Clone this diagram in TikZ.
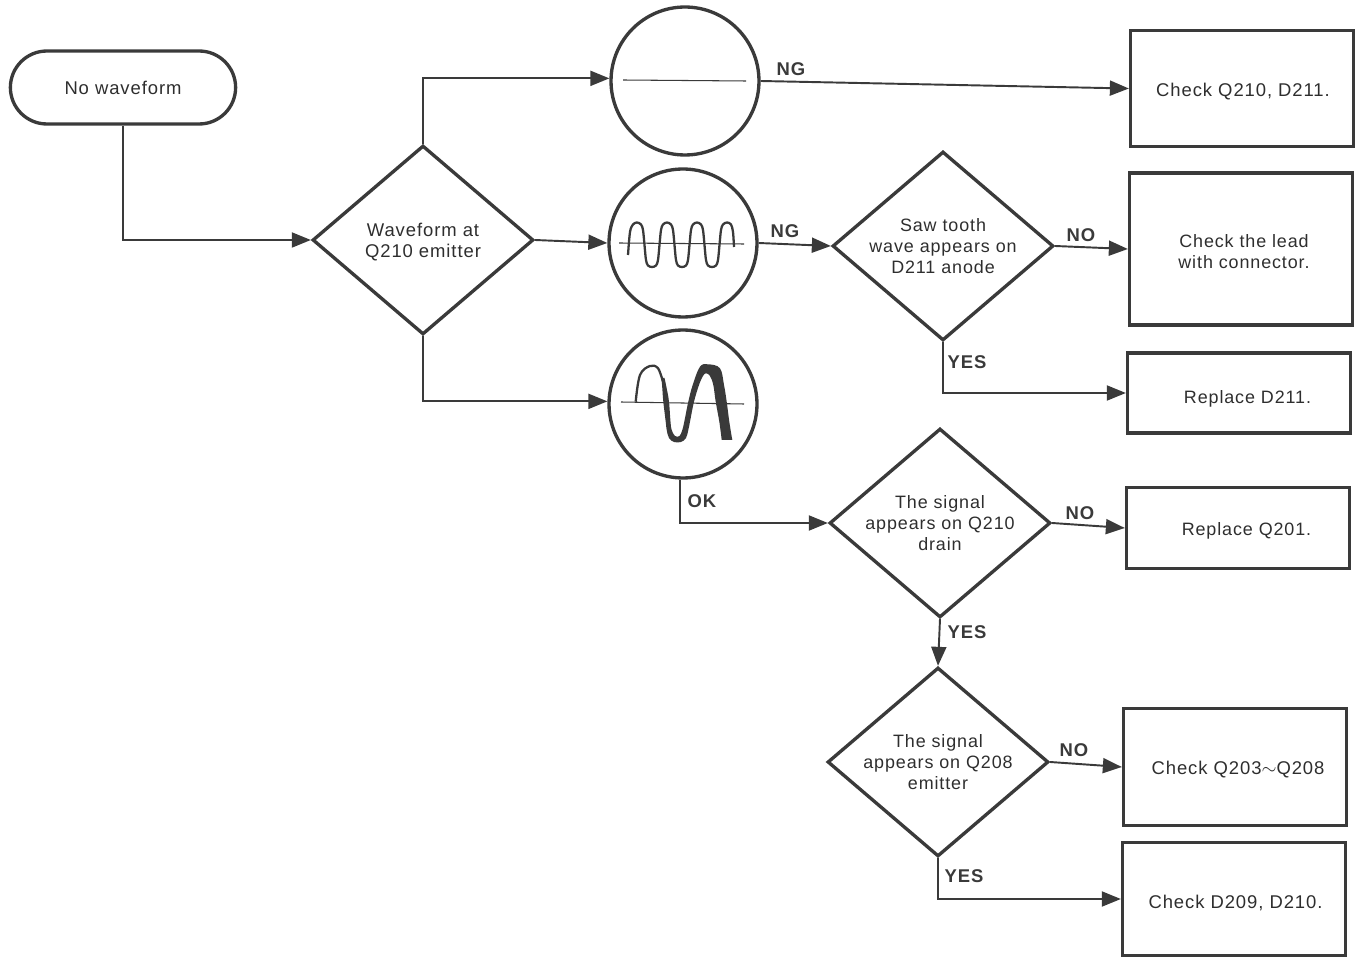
\documentclass[tikz,border=0pt]{standalone}
\usepackage{fontspec}
\setmainfont[LetterSpace=5]{Liberation Sans}
\usetikzlibrary{shapes.geometric, shapes.misc, arrows.meta}
\definecolor{InkDark}{HTML}{3A3A3A}
\definecolor{InkText}{HTML}{2E2E2E}
\tikzset{
    % Box styles
    terminal/.style={
        rounded rectangle,
        draw=InkDark,
        line width=1.9pt,
        minimum width=4.52cm,
        minimum height=1.46cm,
        align=center,
        text=InkText,
        font=\fontsize{10.5}{12}\selectfont
    },
    decision/.style={
        diamond,
        draw=InkDark,
        line width=1.9pt,
        minimum width=4.42cm,
        minimum height=3.78cm,
        inner sep=0pt,
        shape aspect=1.17,
        align=center,
        text=InkText,
        font=\fontsize{10.2}{12}\selectfont
    },
    display/.style={
        circle,
        draw=InkDark,
        line width=1.9pt,
        minimum size=2.96cm,
        inner sep=0pt
    },
    action/.style={
        rectangle,
        draw=InkDark,
        line width=1.9pt,
        minimum width=4.46cm,
        align=center,
        text=InkText,
        font=\fontsize{10.2}{12}\selectfont
    },
    wide/.style={
        font=\fontsize{10.5}{12}\selectfont
    },
    answer/.style={
        inner sep=0pt,
        text=InkDark,
        font=\fontsize{10.5}{12}\selectfont\bfseries
    },
    % Arrow and trace styles
    arrow/.style={
        -{Triangle[length=0.38cm,width=0.3cm]},
        line width=1.1pt,
        draw=InkDark
    },
    baseline/.style={
        line width=0.6pt,
        draw=InkDark
    },
    trace/.style={
        line width=1.3pt,
        draw=InkDark
    }
}
\begin{document}
\begin{tikzpicture}[x=0.02cm, y=-0.02cm]
    \useasboundingbox (0,0) rectangle (1360,959);

    \node[terminal, minimum width=4.74cm] (start) at (123,87.5) {No waveform};
    \node[decision, wide] (emitter) at (423,240) {\rule{0pt}{10pt}Waveform at\\Q210 emitter};

    \node[display] (flat) at (685,81) {};
    \node[display] (small) at (683,243) {};
    \node[display] (large) at (683,404) {};

    \node[decision] (sawtooth) at (943,246) {Saw tooth\\wave appears on\\D211 anode};
    \node[decision] (drain) at (940,523) {The signal\\appears on Q210\\drain};
    \node[decision] (follower) at (938,762) {The signal\\appears on Q208\\emitter};

    \node[action, wide, minimum height=2.32cm, text height=8.6pt, text depth=0pt] (checkq) at (1242,88.5) {\hspace*{0.04cm}Check Q210, D211.};
    \node[action, minimum height=3.04cm] (checklead) at (1241,249) {\rule{0pt}{10pt}\hspace*{0.12cm}Check the lead\\\hspace*{0.12cm}with connector.};
    \node[action, minimum height=1.6cm, text height=11.7pt, text depth=0pt] (replaced) at (1239,393) {\hspace*{0.34cm}Replace D211.};
    \node[action, minimum height=1.62cm, text height=8.4pt, text depth=0pt] (replaceq) at (1238,528) {\hspace*{0.34cm}Replace Q201.};
    \node[action, wide, minimum height=2.34cm, text height=8.1pt, text depth=0pt] (checkrange) at (1235,767) {\hspace*{0.12cm}Check Q203$\sim$Q208};
    \node[action, wide, minimum height=2.26cm, text height=10.3pt, text depth=0pt] (checkdiode) at (1234,899) {\hspace*{0.06cm}Check D209, D210.};

    \draw[arrow] (start.south) |- (emitter.west);
    \draw[arrow] (emitter.north) |- (flat.178);
    \draw[arrow] (emitter.east) -- (small.west);
    \draw[arrow] (emitter.south) |- (large.178);
    \draw[arrow] (flat.east) -- (checkq.west);
    \draw[arrow] (small.east) -- (sawtooth.west);
    \draw[arrow] (sawtooth.east) -- (checklead.west);
    \draw[arrow] (sawtooth.south) |- (replaced.west);
    \draw[arrow] (large.268) |- (drain.west);
    \draw[arrow] (drain.east) -- (replaceq.west);
    \draw[arrow] (drain.south) -- (follower.north);
    \draw[arrow] (follower.east) -- (checkrange.west);
    \draw[arrow] (follower.south) |- (checkdiode.west);

    \node[answer] (ng1) at (791,69) {NG};
    \node[answer] (ng2) at (785,231) {NG};
    \node[answer] (no1) at (1081,235) {NO};
    \node[answer] (yes1) at (967,362) {YES};
    \node[answer] (ok) at (702,501) {OK};
    \node[answer] (no2) at (1080,513) {NO};
    \node[answer] (yes2) at (967,632) {YES};
    \node[answer] (no3) at (1074,750) {NO};
    \node[answer] (yes3) at (964,876) {YES};

    % traces on the screens
    \draw[baseline] (623,80) -- (746,81);
    \draw[baseline] (619,243) -- (744,244);
    \draw[trace] plot[smooth, tension=0.55] coordinates {(628,255) (630,232) (633,224.5) (637,222.5)
        (641,224.5) (643,230) (644.5,245) (646,260) (648,265.5) (652,267) (656,265.5) (658,260) (659.5,245)
        (661,230) (663,224.5) (667,222.5) (671,224.5) (673,230) (674.5,245) (676,260) (678,265.5) (682,267)
        (686,265.5) (688,260) (689.5,245) (691,230) (693,224.5) (697,222.5) (701,224.5) (703,230) (704.5,245)
        (706,260) (708,265.5) (712,267) (716,265.5) (718,260) (719.5,245) (721,230) (723,224.5) (727,222.5)
        (731,224.5) (733,232) (734,247)};
    \draw[baseline] (621,402) -- (744,404);
    \draw[trace] plot[smooth, tension=0.6] coordinates {(635.7,401.7) (640,375) (650,366) (658,368.3) (663,382)};
    \fill[InkDark] plot[smooth, tension=0.6] coordinates {(661.5,378) (662.3,388.3) (663.3,401.7) (665.7,421.7)
        (666.7,430) (669,438) (674,442) (681,442) (686,438) (688.3,430) (690,421.7) (694,401.7) (699,385) (703,376) (706,373.3)
        (710,376) (713.3,385) (715.7,401.7) (719.3,421.7) (721.7,440)}
        -- plot[smooth, tension=0.6] coordinates {(732.3,440) (729.3,421.7) (726.7,401.7) (724,385) (720,368.3)
        (708.3,364.3) (700,366.7) (692.7,385) (688.3,401.7) (684.3,421.7) (682.3,430) (679.5,436) (675,436) (671.7,430)
        (670.5,421.7) (669,401.7) (666.7,388.3) (664.5,378)} -- cycle;
\end{tikzpicture}
\end{document}
